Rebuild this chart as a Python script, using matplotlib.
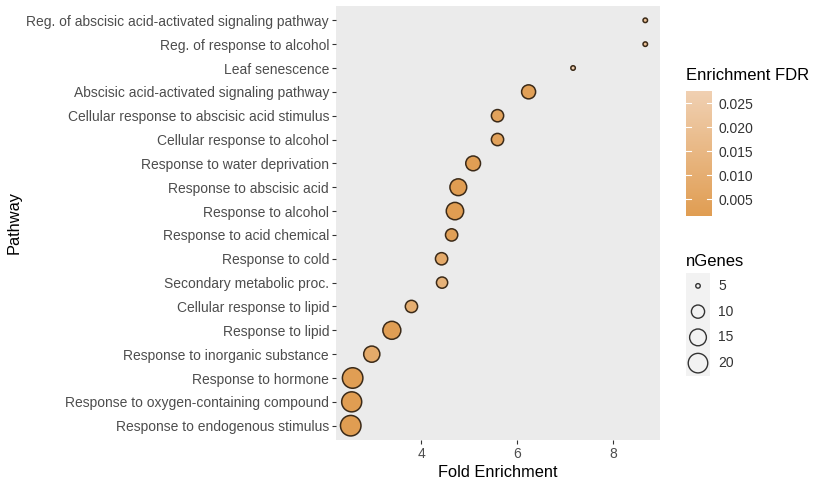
import numpy as np
import matplotlib
matplotlib.use("Agg")
from matplotlib import pyplot as plt
from matplotlib.colors import LinearSegmentedColormap, Normalize

plt.rcParams['font.family'] = ['Liberation Sans', 'DejaVu Sans']

# --- data ---
pathways = [
    "Reg. of abscisic acid-activated signaling pathway",
    "Reg. of response to alcohol",
    "Leaf senescence",
    "Abscisic acid-activated signaling pathway",
    "Cellular response to abscisic acid stimulus",
    "Cellular response to alcohol",
    "Response to water deprivation",
    "Response to abscisic acid",
    "Response to alcohol",
    "Response to acid chemical",
    "Response to cold",
    "Secondary metabolic proc.",
    "Cellular response to lipid",
    "Response to lipid",
    "Response to inorganic substance",
    "Response to hormone",
    "Response to oxygen-containing compound",
    "Response to endogenous stimulus",
]
fold_enrichment = [8.68, 8.68, 7.17, 6.24, 5.59, 5.59, 5.08, 4.77, 4.70, 4.63,
                   4.42, 4.43, 3.79, 3.38, 2.96, 2.56, 2.54, 2.52]
n_genes = [5, 5, 5, 11, 9, 9, 12, 15, 16, 9, 9, 8, 9, 17, 14, 22, 21, 22]
fdr = [0.020, 0.020, 0.0275, 0.003, 0.004, 0.004, 0.002, 0.0015, 0.0015, 0.003,
       0.008, 0.012, 0.010, 0.002, 0.008, 0.002, 0.0015, 0.0015]

fdr_ticks = [0.005, 0.010, 0.015, 0.020, 0.025]
size_breaks = [5, 10, 15, 20]

# --- scales ---
cmap = LinearSegmentedColormap.from_list("fdr", ["#E09D52", "#F0D0B2"])
norm = Normalize(vmin=min(fdr), vmax=max(fdr))

nmin, nmax = min(n_genes), max(n_genes)


def marker_area(n):
    # ggplot-like area scale: diameter in px grows with sqrt of rescaled value
    n = np.asarray(n, dtype=float)
    d_px = 4.5 + 16.0 * np.sqrt(np.clip((n - nmin) / (nmax - nmin), 0, None))
    d_pt = d_px * 72.0 / 100.0
    return d_pt ** 2


W, H = 824, 486
fig = plt.figure(figsize=(W / 100, H / 100), dpi=100)

ax = fig.add_axes([336 / W, 1 - 440 / H, (660 - 336) / W, (440 - 6) / H])
ax.set_facecolor("#EBEBEB")
for s in ax.spines.values():
    s.set_visible(False)

ypos = np.arange(len(pathways))[::-1]
ax.scatter(fold_enrichment, ypos, s=marker_area(n_genes), c=fdr, cmap=cmap,
           norm=norm, edgecolors="#3B2A18", linewidths=1.1, zorder=3)

ax.set_yticks(ypos)
ax.set_yticklabels(pathways)
ax.set_ylim(-0.6, len(pathways) - 1 + 0.6)
xr = max(fold_enrichment) - min(fold_enrichment)
ax.set_xlim(min(fold_enrichment) - 0.05 * xr, max(fold_enrichment) + 0.05 * xr)
ax.set_xticks([4, 6, 8])
ax.tick_params(axis="both", colors="#333333", labelcolor="#4D4D4D",
               labelsize=10, length=3, width=0.8, pad=2)
ax.set_xlabel("Fold Enrichment", fontsize=11.8, color="black", labelpad=3)
ax.set_ylabel("Pathway", fontsize=11.8, color="black")
ax.yaxis.set_label_coords(-0.97, 0.5)

# --- colour bar legend ---
cax = fig.add_axes([686 / W, 1 - 216 / H, 26 / W, 125 / H])
cb = fig.colorbar(plt.cm.ScalarMappable(norm=norm, cmap=cmap), cax=cax)
cb.outline.set_visible(False)
cb.set_ticks(fdr_ticks)
cb.set_ticklabels(["%.3f" % t for t in fdr_ticks])
cax.tick_params(length=0, labelsize=10, labelcolor="#333333", pad=5)
for t in fdr_ticks:
    cax.plot([0, 0.2], [t, t], color="white", lw=0.8, transform=cax.get_yaxis_transform())
    cax.plot([0.8, 1], [t, t], color="white", lw=0.8, transform=cax.get_yaxis_transform())
fig.text(686 / W, 1 - 75 / H, "Enrichment FDR", fontsize=12, va="center", ha="left")

# --- size legend ---
fig.text(686 / W, 1 - 261 / H, "nGenes", fontsize=12, va="center", ha="left")
lax = fig.add_axes([686 / W, 1 - 376 / H, 24 / W, 103 / H])
lax.set_facecolor("#F2F2F2")
for s in lax.spines.values():
    s.set_visible(False)
lax.set_xticks([])
lax.set_yticks([])
ly = np.arange(len(size_breaks))[::-1]
lax.scatter([0] * len(size_breaks), ly, s=marker_area(size_breaks),
            facecolors="none", edgecolors="#333333", linewidths=1.0)
lax.set_xlim(-1, 1)
lax.set_ylim(-0.5, len(size_breaks) - 0.5)
for b, yy in zip(size_breaks, ly):
    lax.text(1.7, yy, str(b), fontsize=10, color="#333333", va="center",
             ha="left", transform=lax.transData, clip_on=False)

fig.savefig("out.png", dpi=100)
